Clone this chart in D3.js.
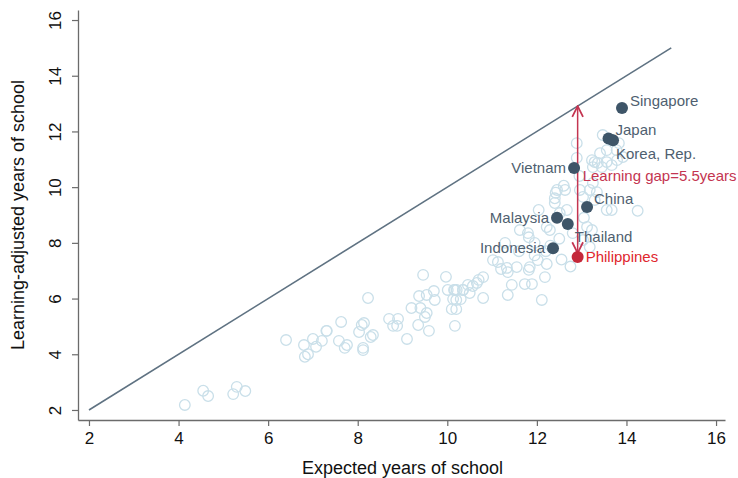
<!DOCTYPE html>
<html>
<head>
<meta charset="utf-8">
<script src="https://cdn.jsdelivr.net/npm/d3@7"></script>
<style>
  body { margin: 0; background: #fff; }
  svg { display: block; font-family: "Liberation Sans", Arial, sans-serif; }
</style>
</head>
<body>
<svg id="chart" width="738" height="478"></svg>
<script>
// Países sem rótulo: anos esperados (x) e anos ajustados pela aprendizagem (y).
const outrosX = [4.14, 4.55, 4.66, 5.22, 5.30, 5.49, 6.40, 6.80, 7.00, 7.07, 7.20, 6.82, 6.89, 7.30,
  9.46, 9.97, 8.23, 9.37, 9.54, 9.70, 9.72, 10.01, 10.15, 10.21, 10.35, 10.13, 10.30, 10.46,
  9.20, 9.40, 9.54, 9.50, 10.10, 10.20, 10.17, 9.35, 9.59, 9.10, 8.70, 8.90, 8.79, 8.88,
  8.14, 8.09, 8.03, 8.34, 8.29, 8.12, 8.12, 7.63, 7.31, 7.58, 7.76, 7.71,
  12.42, 12.04, 11.62, 11.80, 11.82, 12.22, 11.29, 11.02, 11.13, 11.20, 11.33, 11.35, 11.55,
  11.84, 11.82, 12.02, 12.22, 12.18, 11.73, 11.89, 11.44, 11.35, 12.11, 10.80, 10.70, 10.57,
  10.66, 10.80, 10.35, 10.17, 10.20, 10.50,
  13.47, 13.67, 13.83, 13.78, 13.56, 13.41, 13.29, 13.23, 13.36, 13.56, 13.67, 13.79, 13.92,
  13.45, 13.25, 12.89, 12.89, 13.25, 13.18, 13.34, 12.96, 13.03, 13.29, 12.63, 12.45,
  13.67, 13.56, 13.12, 13.23, 12.67, 12.51, 12.40, 12.80, 13.03, 13.18, 12.29, 14.25,
  12.40, 12.60, 12.20, 11.95, 12.55, 12.75, 13.05, 12.95, 12.30, 11.60, 11.95, 12.50];
const outrosY = [2.18, 2.69, 2.50, 2.57, 2.83, 2.68, 4.51, 4.33, 4.55, 4.27, 4.48, 3.91, 4.00, 4.84,
  6.85, 6.78, 6.02, 6.09, 6.13, 6.27, 5.95, 6.31, 6.31, 6.31, 6.31, 5.98, 5.98, 6.49,
  5.66, 5.66, 5.48, 5.34, 5.62, 5.62, 5.02, 5.05, 4.84, 4.55, 5.27, 5.27, 5.02, 5.02,
  5.12, 5.05, 4.80, 4.69, 4.62, 4.23, 4.15, 5.16, 4.84, 4.48, 4.33, 4.23,
  9.80, 9.18, 8.46, 8.35, 8.20, 8.57, 8.00, 7.38, 7.31, 7.06, 7.10, 6.95, 7.13,
  7.13, 7.03, 7.38, 7.24, 6.77, 6.52, 6.52, 6.49, 6.13, 5.95, 6.77, 6.67, 6.45,
  6.56, 6.02, 6.31, 6.31, 5.95, 6.20,
  11.87, 11.69, 11.58, 11.33, 11.33, 11.22, 10.90, 10.97, 10.87, 10.90, 10.79, 10.97, 11.08,
  10.72, 10.72, 11.58, 11.05, 10.15, 9.90, 9.82, 9.90, 9.65, 9.54, 9.90, 9.90,
  9.18, 9.18, 8.57, 8.46, 9.18, 9.07, 9.43, 8.35, 8.10, 7.85, 8.46, 9.15,
  9.60, 10.05, 7.70, 7.55, 7.40, 7.15, 8.90, 10.40, 7.90, 7.70, 8.00, 8.15];

// Países destacados.
const paises = ["Singapore", "Japan", "Korea, Rep.", "Vietnam", "China", "Malaysia", "Thailand", "Indonesia", "Philippines"];
const paisesX = [13.90, 13.60, 13.70, 12.83, 13.12, 12.45, 12.69, 12.36, 12.91];
const paisesY = [12.84, 11.75, 11.68, 10.69, 9.29, 8.90, 8.68, 7.81, 7.49];

const eixoTicks = [2, 4, 6, 8, 10, 12, 14, 16];
const linhaIgualdade = [2, 15];
const textoGap = "Learning gap=5.5years";

// Posição dos rótulos em relação ao ponto (dx, dy, âncora).
const rotulos = {
  "Singapore": [8, -7, "start"],
  "Japan": [7, -9, "start"],
  "Korea, Rep.": [3, 13, "start"],
  "Vietnam": [-8, 0, "end"],
  "China": [7, -8, "start"],
  "Malaysia": [-8, 0, "end"],
  "Thailand": [7, 13, "start"],
  "Indonesia": [-8, 0, "end"],
  "Philippines": [8, 0, "start"]
};

const svg = d3.select("#chart");

const x = d3.scaleLinear().domain([1.755, 16.2]).range([78, 725]);
const y = d3.scaleLinear().domain([1.64, 16.36]).range([420, 10]);

const corEixo = "#6b6b6b";

// Eixo X
const gx = svg.append("g")
  .attr("transform", "translate(0,420)")
  .call(d3.axisBottom(x).tickValues(eixoTicks).tickSize(6).tickSizeOuter(0).tickFormat(d3.format("d")));
gx.select(".domain").attr("stroke", corEixo).attr("stroke-width", 1.3);
gx.selectAll(".tick line").attr("stroke", corEixo).attr("stroke-width", 1.2);
gx.selectAll(".tick text").attr("font-size", 17).attr("fill", "#111").attr("dy", "0.9em")
  .attr("font-family", "Liberation Sans, Arial, sans-serif");

// Eixo Y (rótulos girados)
const gy = svg.append("g")
  .attr("transform", "translate(78,0)")
  .call(d3.axisLeft(y).tickValues(eixoTicks).tickSize(6).tickSizeOuter(0).tickFormat(d3.format("d")));
gy.select(".domain").attr("stroke", corEixo).attr("stroke-width", 1.3);
gy.selectAll(".tick line").attr("stroke", corEixo).attr("stroke-width", 1.2);
gy.selectAll(".tick text")
  .attr("font-size", 17).attr("fill", "#111")
  .attr("font-family", "Liberation Sans, Arial, sans-serif")
  .attr("x", 0).attr("dy", 0)
  .attr("text-anchor", "middle")
  .attr("transform", "translate(-17,0) rotate(-90)");

// Títulos
svg.append("text")
  .attr("x", x(9)).attr("y", 474)
  .attr("text-anchor", "middle").attr("font-size", 18).attr("fill", "#111")
  .text("Expected years of school");
svg.append("text")
  .attr("transform", "translate(24," + y(9) + ") rotate(-90)")
  .attr("text-anchor", "middle").attr("font-size", 18).attr("fill", "#111")
  .text("Learning-adjusted years of school");

// Linha de 45 graus
svg.append("line")
  .attr("x1", x(linhaIgualdade[0])).attr("y1", y(linhaIgualdade[0]))
  .attr("x2", x(linhaIgualdade[1])).attr("y2", y(linhaIgualdade[1]))
  .attr("stroke", "#5f7282").attr("stroke-width", 1.6);

// Círculos vazios
svg.append("g").selectAll("circle")
  .data(d3.range(outrosX.length))
  .enter().append("circle")
  .attr("cx", i => x(outrosX[i]))
  .attr("cy", i => y(outrosY[i]))
  .attr("r", 5.3)
  .attr("fill", "none")
  .attr("stroke", "#c9dfe9")
  .attr("stroke-width", 1.3);

// Seta do gap de aprendizagem (Filipinas)
const iPh = paises.indexOf("Philippines");
const gapX = x(paisesX[iPh]);
const gapTopo = y(paisesX[iPh]);
const gapBase = y(paisesY[iPh]) - 4;
const corGap = "#c43551";

svg.append("defs").append("marker")
  .attr("id", "seta").attr("viewBox", "0 0 10 10")
  .attr("refX", 9).attr("refY", 5)
  .attr("markerWidth", 9).attr("markerHeight", 9)
  .attr("orient", "auto-start-reverse")
  .append("path").attr("d", "M1,1 L9,5 L1,9")
  .attr("fill", "none").attr("stroke", corGap).attr("stroke-width", 1.3);

svg.append("line")
  .attr("x1", gapX).attr("y1", gapBase)
  .attr("x2", gapX).attr("y2", gapTopo)
  .attr("stroke", corGap).attr("stroke-width", 1.5)
  .attr("marker-start", "url(#seta)")
  .attr("marker-end", "url(#seta)");

// Pontos destacados
svg.append("g").selectAll("circle")
  .data(paises)
  .enter().append("circle")
  .attr("cx", (d, i) => x(paisesX[i]))
  .attr("cy", (d, i) => y(paisesY[i]))
  .attr("r", 6)
  .attr("fill", d => d === "Philippines" ? "#c4283a" : "#3e5568");

svg.append("g").selectAll("text")
  .data(paises)
  .enter().append("text")
  .attr("x", (d, i) => x(paisesX[i]) + rotulos[d][0])
  .attr("y", (d, i) => y(paisesY[i]) + rotulos[d][1])
  .attr("dy", "0.35em")
  .attr("text-anchor", d => rotulos[d][2])
  .attr("font-size", 15)
  .attr("fill", d => d === "Philippines" ? "#e0262e" : "#4f5f70")
  .text(d => d);

svg.append("text")
  .attr("x", gapX + 5).attr("y", y(10.4))
  .attr("dy", "0.35em")
  .attr("font-size", 15).attr("fill", corGap)
  .text(textoGap);
</script>
</body>
</html>
